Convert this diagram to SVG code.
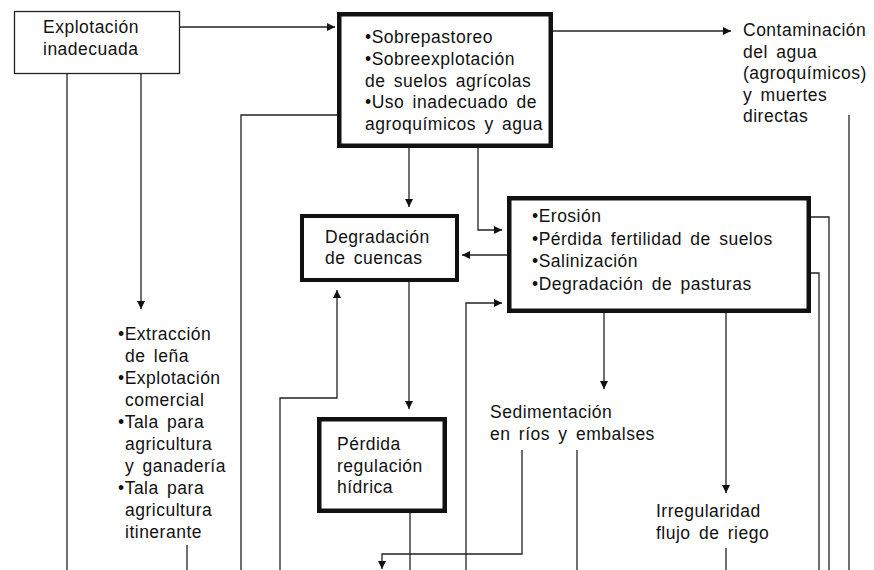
<svg xmlns="http://www.w3.org/2000/svg" width="874" height="570" viewBox="0 0 874 570">
<style>
text{font-family:"Liberation Sans",Arial,sans-serif;font-size:17.5px;letter-spacing:0.5px;word-spacing:3px;fill:#111}
.thin{fill:#fff;stroke:#222;stroke-width:1.3}
.thick{fill:#fff;stroke:#111;stroke-width:4.5}
.c{fill:none;stroke:#222;stroke-width:1.3}
.a{marker-end:url(#ah)}
</style>
<defs>
<marker id="ah" viewBox="0 0 10 10" refX="10" refY="5" markerUnits="userSpaceOnUse" markerWidth="10" markerHeight="8" orient="auto">
<path d="M0,0 L10,5 L0,10 z" fill="#111"/>
</marker>
</defs>
<rect width="874" height="570" fill="#fff"/>
<g id="connectors">
<path class="c a" d="M180,27 H335"/>
<path class="c a" d="M553,31 H731"/>
<path class="c" d="M67,74 V570"/>
<path class="c a" d="M141,74 V309"/>
<path class="c" d="M337,115 H241 V570"/>
<path class="c a" d="M409,148 V207"/>
<path class="c a" d="M478,148 V230 H502"/>
<path class="c a" d="M507,255 H462"/>
<path class="c a" d="M466,570 V303 H502"/>
<path class="c a" d="M409,282 V409"/>
<path class="c a" d="M280,570 V398 H337 V290"/>
<path class="c a" d="M604,313 V389"/>
<path class="c a" d="M726,313 V493"/>
<path class="c" d="M811,217 H829 V570"/>
<path class="c" d="M811,273 H819 V570"/>
<path class="c" d="M849,115 V570"/>
<path class="c" d="M187,545 V570"/>
<path class="c" d="M410,513 V570"/>
<path class="c a" d="M522,450 V554 H382 V569"/>
<path class="c" d="M577,450 V570"/>
<path class="c" d="M726,548 V570"/>
</g>
<g id="explotacion">
<rect class="thin" x="14.5" y="11.5" width="165" height="62"/>
<text x="43" y="33">Explotación</text>
<text x="43" y="55">inadecuada</text>
</g>
<g id="sobrepastoreo">
<rect class="thick" x="339.25" y="14.25" width="211.5" height="131.5"/>
<text x="365" y="43">•Sobrepastoreo</text>
<text x="365" y="65">•Sobreexplotación</text>
<text x="365" y="86.5">de suelos agrícolas</text>
<text x="365" y="108">•Uso inadecuado de</text>
<text x="365" y="130">agroquímicos y agua</text>
</g>
<g id="contaminacion">
<text x="743" y="36">Contaminación</text>
<text x="743" y="57.5">del agua</text>
<text x="743" y="79">(agroquímicos)</text>
<text x="743" y="100.5">y muertes</text>
<text x="743" y="122">directas</text>
</g>
<g id="degradacion">
<rect class="thick" x="302" y="216" width="155" height="64" style="stroke-width:4"/>
<text x="325" y="243">Degradación</text>
<text x="325" y="264">de cuencas</text>
</g>
<g id="erosion">
<rect class="thick" x="509.25" y="198.25" width="299.5" height="112.5"/>
<text x="532" y="222">•Erosión</text>
<text x="532" y="245">•Pérdida fertilidad de suelos</text>
<text x="532" y="267">•Salinización</text>
<text x="532" y="290">•Degradación de pasturas</text>
</g>
<g id="extraccion">
<text x="118" y="340">•Extracción</text>
<text x="125" y="362">de leña</text>
<text x="118" y="384">•Explotación</text>
<text x="125" y="406">comercial</text>
<text x="118" y="428">•Tala para</text>
<text x="125" y="450">agricultura</text>
<text x="125" y="472">y ganadería</text>
<text x="118" y="494">•Tala para</text>
<text x="125" y="516">agricultura</text>
<text x="125" y="538">itinerante</text>
</g>
<g id="perdida">
<rect class="thick" x="319.25" y="419.25" width="125.5" height="91.5"/>
<text x="337" y="450">Pérdida</text>
<text x="337" y="471.5">regulación</text>
<text x="337" y="493">hídrica</text>
</g>
<g id="sedimentacion">
<text x="490" y="418">Sedimentación</text>
<text x="490" y="440">en ríos y embalses</text>
</g>
<g id="irregularidad">
<text x="656" y="517">Irregularidad</text>
<text x="656" y="539">flujo de riego</text>
</g>
</svg>
